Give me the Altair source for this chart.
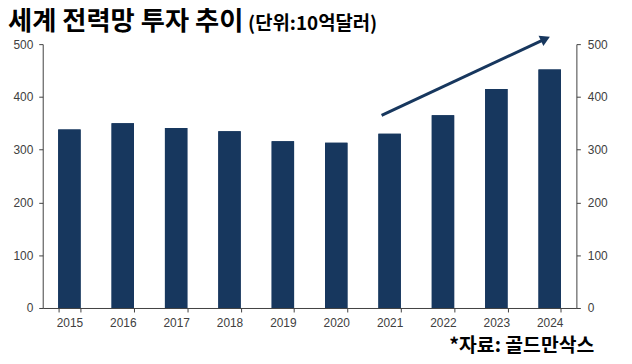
import altair as alt
import pandas as pd

years = ["2015", "2016", "2017", "2018", "2019", "2020", "2021", "2022", "2023", "2024"]
values = [338, 350, 341, 335, 316, 313, 330, 365, 415, 452]

arrow_x = [6.35, 9.42]
arrow_y = [365, 510]

title_main = "세계 전력망 투자 추이"
title_unit = "(단위:10억달러)"
source_text = "*자료: 골드만삭스"

NAVY = "#17375E"
AX = "#404040"

df = pd.DataFrame({"year": years, "value": values})
arrow_df = pd.DataFrame({"x": [arrow_x[0]], "y": [arrow_y[0]], "x2": [arrow_x[1]], "y2": [arrow_y[1]]})
head_df = pd.DataFrame({"x": [arrow_x[1]], "y": [arrow_y[1]]})
one = pd.DataFrame({"a": [0]})

xscale = alt.Scale(paddingInner=0.58, paddingOuter=0.29)
yscale = alt.Scale(domain=[0, 500])
ticks = [0, 100, 200, 300, 400, 500]

bars_left = alt.Chart(df).mark_bar(color=NAVY).encode(
    x=alt.X("year:N", sort=years, scale=xscale, title=None,
            axis=alt.Axis(labelAngle=0, tickBand="extent", tickSize=4, labelPadding=6,
                          domainColor=AX, tickColor=AX)),
    y=alt.Y("value:Q", scale=yscale, title=None,
            axis=alt.Axis(orient="left", values=ticks, tickSize=4, labelPadding=6,
                          grid=False, domainColor=AX, tickColor=AX)),
)

bars_right = alt.Chart(df).mark_bar(color=NAVY).encode(
    x=alt.X("year:N", sort=years, scale=xscale, title=None, axis=None),
    y=alt.Y("value:Q", scale=yscale, title=None,
            axis=alt.Axis(orient="right", values=ticks, tickSize=4, labelPadding=7,
                          grid=False, domainColor=AX, tickColor=AX)),
)

qx = alt.Scale(domain=[0, 10])
arrow = alt.Chart(arrow_df).mark_rule(color=NAVY, strokeWidth=3, clip=False).encode(
    x=alt.X("x:Q", scale=qx, axis=None),
    x2="x2:Q",
    y=alt.Y("y:Q", scale=yscale, axis=None),
    y2="y2:Q",
)
head = alt.Chart(head_df).mark_point(shape="triangle-up", filled=True, color=NAVY,
                                      size=130, angle=65, opacity=1, clip=False).encode(
    x=alt.X("x:Q", scale=qx, axis=None),
    y=alt.Y("y:Q", scale=yscale, axis=None),
)

t1 = alt.Chart(one).mark_text(text=title_main, font="Noto Sans CJK KR", fontWeight="bold",
                              fontSize=26.5, color="#000", align="left", baseline="alphabetic").encode(
    x=alt.value(-35), y=alt.value(-14))
t2 = alt.Chart(one).mark_text(text=title_unit, font="Noto Sans CJK KR", fontWeight="bold",
                              fontSize=19, color="#000", align="left", baseline="alphabetic").encode(
    x=alt.value(207), y=alt.value(-14))
t3 = alt.Chart(one).mark_text(text=source_text, font="Noto Sans CJK KR", fontWeight="bold",
                              fontSize=19.5, color="#000", align="right", baseline="alphabetic").encode(
    x=alt.value(556), y=alt.value(310))

chart = alt.layer(bars_left, bars_right, arrow, head, t1, t2, t3).resolve_scale(
    x="independent", y="independent"
).properties(
    width=538, height=266,
    padding={"left": 35, "top": 35, "right": 48, "bottom": 50},
    autosize=alt.AutoSizeParams(type="none"),
).configure_view(stroke=None).configure_axis(
    labelFont="Liberation Sans", labelFontSize=12, labelColor=AX, grid=False,
)

chart.save("out.html", embed_options={"renderer": "svg", "actions": False})
